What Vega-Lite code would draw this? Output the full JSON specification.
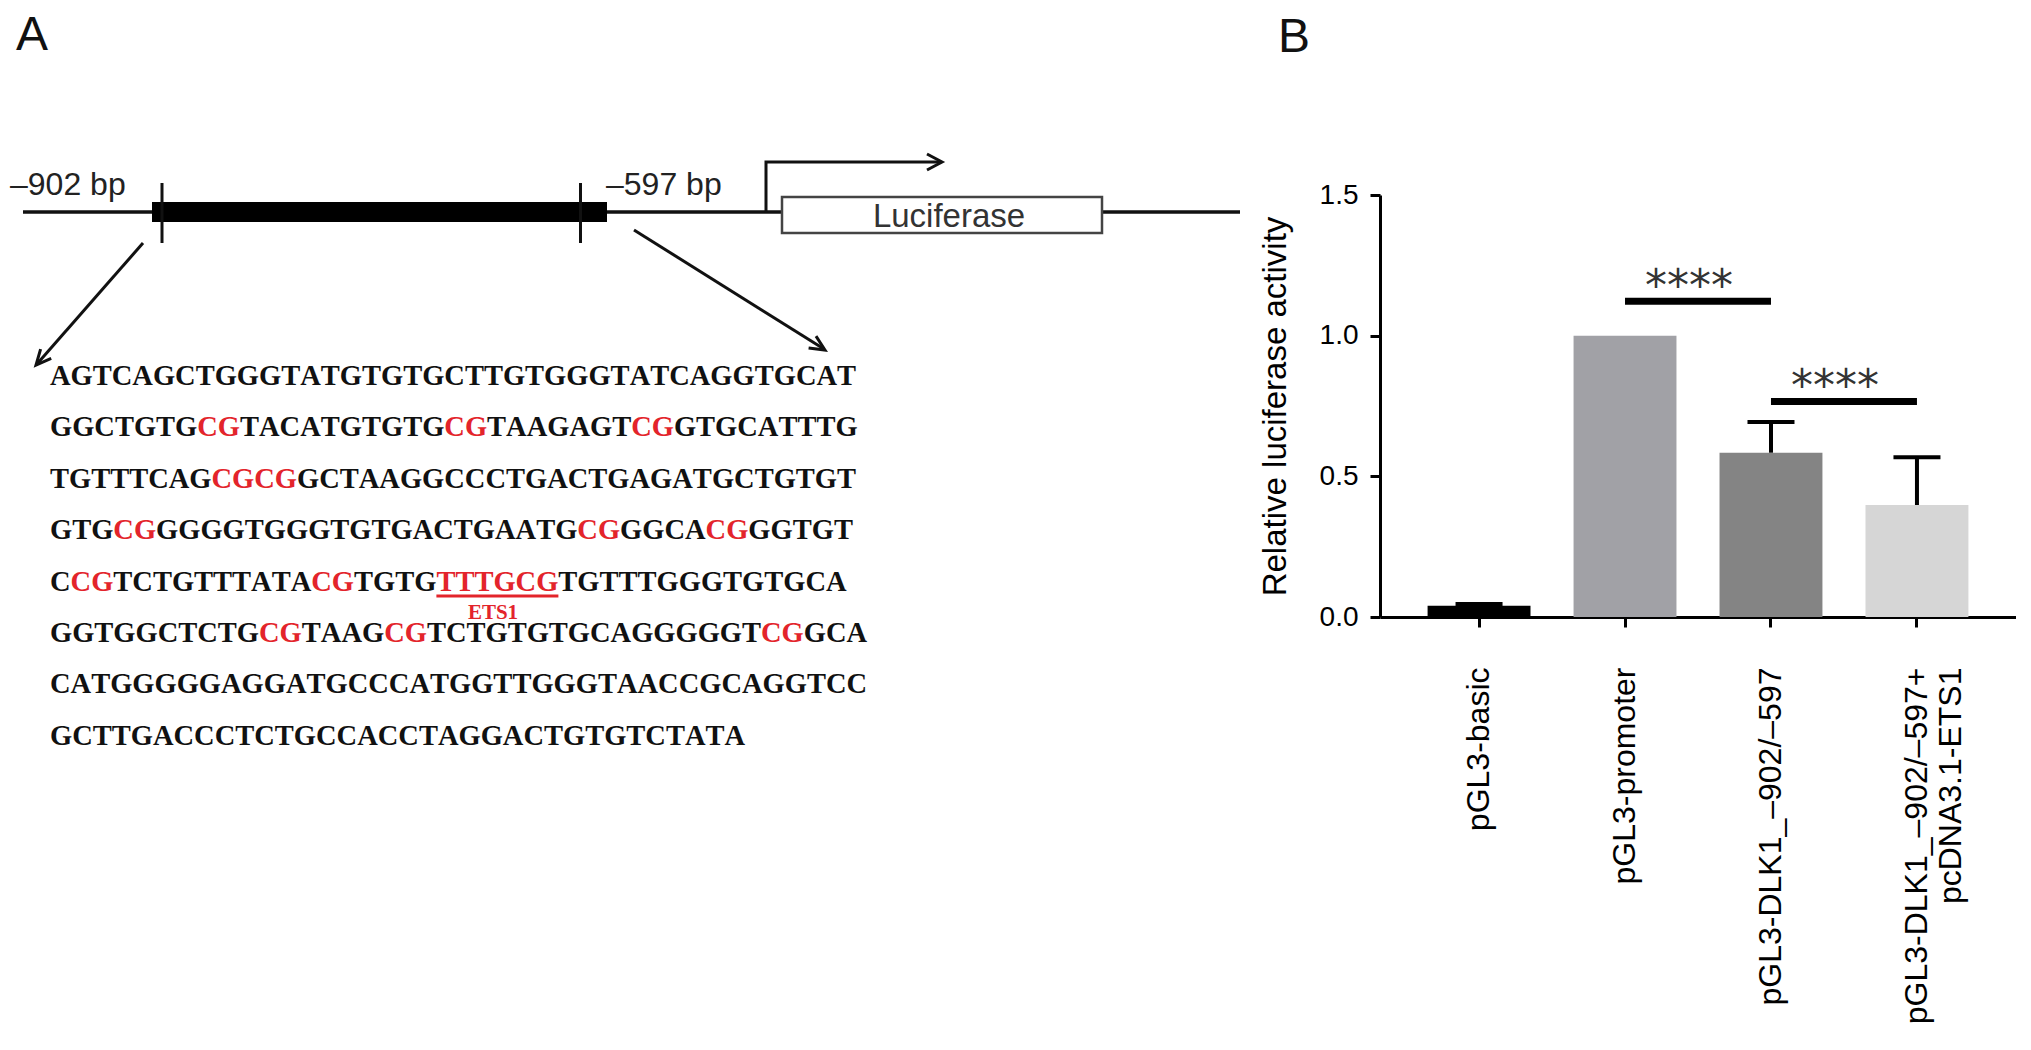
{
  "$schema": "https://vega.github.io/schema/vega-lite/v6.json",
  "padding": 0,
  "background": "white",
  "spacing": 80,
  "bounds": "flush",
  "center": true,
  "resolve": {"scale": {"color": "independent"}},
  "config": {
    "view": {"stroke": null},
    "axis": {"labelFont": "Liberation Sans", "titleFont": "Liberation Sans", "labelColor": "black", "titleColor": "black", "domainColor": "black", "tickColor": "black"},
    "text": {"font": "Liberation Sans"}
  },
  "datasets": {
    "paths": [
      {"p": "main", "o": 0, "x": 23, "y": 212, "hl": "no"},
      {"p": "main", "o": 1, "x": 1240, "y": 212, "hl": "no"},
      {"p": "tick1", "o": 0, "x": 162, "y": 183, "hl": "no"},
      {"p": "tick1", "o": 1, "x": 162, "y": 243, "hl": "no"},
      {"p": "tick2", "o": 0, "x": 580.5, "y": 183, "hl": "no"},
      {"p": "tick2", "o": 1, "x": 580.5, "y": 243, "hl": "no"},
      {"p": "prom", "o": 0, "x": 766, "y": 213, "hl": "no"},
      {"p": "prom", "o": 1, "x": 766, "y": 162, "hl": "no"},
      {"p": "prom", "o": 2, "x": 940, "y": 162, "hl": "no"},
      {"p": "promHead", "o": 0, "x": 927, "y": 154, "hl": "no"},
      {"p": "promHead", "o": 1, "x": 942, "y": 162, "hl": "no"},
      {"p": "promHead", "o": 2, "x": 927, "y": 170, "hl": "no"},
      {"p": "arrL", "o": 0, "x": 143, "y": 243, "hl": "no"},
      {"p": "arrL", "o": 1, "x": 37, "y": 364, "hl": "no"},
      {"p": "arrLHead", "o": 0, "x": 51.2, "y": 358.3, "hl": "no"},
      {"p": "arrLHead", "o": 1, "x": 36, "y": 365, "hl": "no"},
      {"p": "arrLHead", "o": 2, "x": 40.6, "y": 349.1, "hl": "no"},
      {"p": "arrR", "o": 0, "x": 634, "y": 230, "hl": "no"},
      {"p": "arrR", "o": 1, "x": 824, "y": 349, "hl": "no"},
      {"p": "arrRHead", "o": 0, "x": 808.6, "y": 348, "hl": "no"},
      {"p": "arrRHead", "o": 1, "x": 825, "y": 350, "hl": "no"},
      {"p": "arrRHead", "o": 2, "x": 816, "y": 336.1, "hl": "no"},
      {"p": "ul", "o": 0, "x": 436.4, "y": 596, "hl": "yes"},
      {"p": "ul", "o": 1, "x": 558.4, "y": 596, "hl": "yes"}
    ],
    "rects": [
      {"r": "bar", "x": 152, "x2": 607, "y": 202, "y2": 222},
      {"r": "luc", "x": 782, "x2": 1102, "y": 197, "y2": 233}
    ],
    "letters": [
      {"t": "A", "x": 16, "y": 50},
      {"t": "B", "x": 1278, "y": 52}
    ],
    "bp": [
      {"t": "–902 bp", "x": 10, "y": 195},
      {"t": "–597 bp", "x": 606, "y": 195}
    ],
    "luc": [{"t": "Luciferase", "x": 949, "y": 227}],
    "ets": [{"t": "ETS1", "x": 493, "y": 619}],
    "seq": [
      {"line": 1, "y": 385, "seq": "AGTCAGCTGGGTATGTGTGCTTGTGGGTATCAGGTGCAT", "mask": ""},
      {"line": 2, "y": 436, "seq": "GGCTGTGCGTACATGTGTGCGTAAGAGTCGGTGCATTTG", "mask": "000000011000000000011000000011000000000"},
      {"line": 3, "y": 488, "seq": "TGTTTCAGCGCGGCTAAGGCCCTGACTGAGATGCTGTGT", "mask": "000000001111000000000000000000000000000"},
      {"line": 4, "y": 539, "seq": "GTGCGGGGGTGGGTGTGACTGAATGCGGGCACGGGTGT", "mask": "00011000000000000000000001100001100000"},
      {"line": 5, "y": 591, "seq": "CCGTCTGTTTATACGTGTGTTTGCGTGTTTGGGTGTGCA", "mask": "011000000000011000011111100000000000000"},
      {"line": 6, "y": 642, "seq": "GGTGGCTCTGCGTAAGCGTCTGTGTGCAGGGGGTCGGCA", "mask": "000000000011000011000000000000000011000"},
      {"line": 7, "y": 693, "seq": "CATGGGGGAGGATGCCCATGGTTGGGTAACCGCAGGTCC", "mask": ""},
      {"line": 8, "y": 745, "seq": "GCTTGACCCTCTGCCACCTAGGACTGTGTCTATA", "mask": ""}
    ],
    "bars": [
      {"group": "pGL3-basic", "value": 0.04, "upper": 0.046},
      {"group": "pGL3-promoter", "value": 1.0},
      {"group": "pGL3-DLK1_–902/–597", "value": 0.584, "upper": 0.693},
      {"group": "pGL3-DLK1_–902/–597+ pcDNA3.1-ETS1", "value": 0.398, "upper": 0.568}
    ],
    "sig": [
      {"group": "pGL3-promoter", "group2": "pGL3-DLK1_–902/–597", "y": 1.122, "stars": "****"},
      {"group": "pGL3-DLK1_–902/–597", "group2": "pGL3-DLK1_–902/–597+ pcDNA3.1-ETS1", "y": 0.766, "stars": "****"}
    ]
  },
  "hconcat": [
    {
      "width": 1300,
      "height": 812,
      "layer": [
        {
          "data": {"name": "paths"},
          "transform": [{"filter": "datum.p == 'main'"}],
          "mark": {"type": "line", "strokeWidth": 3.5, "color": "#111", "strokeCap": "butt"},
          "encoding": {
            "x": {"field": "x", "type": "quantitative", "scale": {"domain": [0, 1300], "nice": false, "zero": false}, "axis": null},
            "y": {"field": "y", "type": "quantitative", "scale": {"domain": [0, 812], "nice": false, "zero": false, "reverse": true}, "axis": null},
            "detail": {"field": "p"},
            "order": {"field": "o"}
          }
        },
        {
          "data": {"name": "rects"},
          "transform": [{"filter": "datum.r == 'bar'"}],
          "mark": {"type": "rect", "fill": "#000"},
          "encoding": {
            "x": {"field": "x", "type": "quantitative", "scale": {"domain": [0, 1300], "nice": false, "zero": false}, "axis": null},
            "x2": {"field": "x2"},
            "y": {"field": "y", "type": "quantitative", "scale": {"domain": [0, 812], "nice": false, "zero": false, "reverse": true}, "axis": null},
            "y2": {"field": "y2"}
          }
        },
        {
          "data": {"name": "rects"},
          "transform": [{"filter": "datum.r == 'luc'"}],
          "mark": {"type": "rect", "fill": "white", "stroke": "#444", "strokeWidth": 2.5},
          "encoding": {
            "x": {"field": "x", "type": "quantitative", "scale": {"domain": [0, 1300], "nice": false, "zero": false}, "axis": null},
            "x2": {"field": "x2"},
            "y": {"field": "y", "type": "quantitative", "scale": {"domain": [0, 812], "nice": false, "zero": false, "reverse": true}, "axis": null},
            "y2": {"field": "y2"}
          }
        },
        {
          "data": {"name": "paths"},
          "transform": [{"filter": "datum.p != 'main'"}],
          "mark": {"type": "line", "strokeWidth": 3, "strokeCap": "butt", "strokeJoin": "miter"},
          "encoding": {
            "x": {"field": "x", "type": "quantitative", "scale": {"domain": [0, 1300], "nice": false, "zero": false}, "axis": null},
            "y": {"field": "y", "type": "quantitative", "scale": {"domain": [0, 812], "nice": false, "zero": false, "reverse": true}, "axis": null},
            "detail": {"field": "p"},
            "order": {"field": "o"},
            "color": {"field": "hl", "type": "nominal", "scale": {"domain": ["no", "yes"], "range": ["#111111", "#e3242b"]}, "legend": null}
          }
        },
        {
          "data": {"name": "letters"},
          "mark": {"type": "text", "align": "left", "baseline": "alphabetic", "fontSize": 48, "color": "#111"},
          "encoding": {
            "x": {"field": "x", "type": "quantitative", "scale": {"domain": [0, 1300], "nice": false, "zero": false}, "axis": null},
            "y": {"field": "y", "type": "quantitative", "scale": {"domain": [0, 812], "nice": false, "zero": false, "reverse": true}, "axis": null},
            "text": {"field": "t"}
          }
        },
        {
          "data": {"name": "bp"},
          "mark": {"type": "text", "align": "left", "baseline": "alphabetic", "fontSize": 32, "color": "#222"},
          "encoding": {
            "x": {"field": "x", "type": "quantitative", "scale": {"domain": [0, 1300], "nice": false, "zero": false}, "axis": null},
            "y": {"field": "y", "type": "quantitative", "scale": {"domain": [0, 812], "nice": false, "zero": false, "reverse": true}, "axis": null},
            "text": {"field": "t"}
          }
        },
        {
          "data": {"name": "luc"},
          "mark": {"type": "text", "align": "center", "baseline": "alphabetic", "fontSize": 33, "color": "#333"},
          "encoding": {
            "x": {"field": "x", "type": "quantitative", "scale": {"domain": [0, 1300], "nice": false, "zero": false}, "axis": null},
            "y": {"field": "y", "type": "quantitative", "scale": {"domain": [0, 812], "nice": false, "zero": false, "reverse": true}, "axis": null},
            "text": {"field": "t"}
          }
        },
        {
          "data": {"name": "seq"},
          "transform": [
            {"calculate": "split(datum.seq, '')", "as": "chars"},
            {"calculate": "split(datum.mask, '')", "as": "marks"},
            {"flatten": ["chars", "marks"], "as": ["ch", "mk"]},
            {"filter": "datum.ch != null && datum.ch != ''"},
            {"calculate": "datum.ch == 'G' ? 0.778 : (datum.ch == 'T' ? 0.667 : 0.722)", "as": "w"},
            {"window": [{"op": "sum", "field": "w", "as": "cum"}], "groupby": ["line"], "frame": [null, 0]},
            {"calculate": "50 + (datum.cum - datum.w) * 28.5", "as": "px"},
            {"calculate": "datum.mk == '1' ? 'yes' : 'no'", "as": "hl"}
          ],
          "mark": {"type": "text", "align": "left", "baseline": "alphabetic", "font": "Liberation Serif", "fontWeight": "bold", "fontSize": 28.5},
          "encoding": {
            "x": {"field": "px", "type": "quantitative", "scale": {"domain": [0, 1300], "nice": false, "zero": false}, "axis": null},
            "y": {"field": "y", "type": "quantitative", "scale": {"domain": [0, 812], "nice": false, "zero": false, "reverse": true}, "axis": null},
            "text": {"field": "ch"},
            "color": {"field": "hl", "type": "nominal", "scale": {"domain": ["no", "yes"], "range": ["#111111", "#e3242b"]}, "legend": null}
          }
        },
        {
          "data": {"name": "ets"},
          "mark": {"type": "text", "align": "center", "baseline": "alphabetic", "font": "Liberation Serif", "fontWeight": "bold", "fontSize": 21, "color": "#e3242b"},
          "encoding": {
            "x": {"field": "x", "type": "quantitative", "scale": {"domain": [0, 1300], "nice": false, "zero": false}, "axis": null},
            "y": {"field": "y", "type": "quantitative", "scale": {"domain": [0, 812], "nice": false, "zero": false, "reverse": true}, "axis": null},
            "text": {"field": "t"}
          }
        }
      ]
    },
    {
      "width": 636,
      "height": 422,
      "layer": [
        {
          "data": {"name": "bars"},
          "mark": {"type": "bar"},
          "encoding": {
            "x": {
              "field": "group", "type": "nominal", "sort": null,
              "scale": {"domain": ["pGL3-basic", "pGL3-promoter", "pGL3-DLK1_–902/–597", "pGL3-DLK1_–902/–597+ pcDNA3.1-ETS1"], "paddingInner": 0.295, "paddingOuter": 0.326},
              "axis": {
                "title": null, "labelAngle": -90, "labelFontSize": 32, "labelPadding": 40, "labelLineHeight": 34,
                "labelExpr": "split(datum.label, ' ')", "labelLimit": 0, "labelOverlap": false,
                "tickSize": 10, "tickWidth": 3, "domainWidth": 3
              }
            },
            "y": {
              "field": "value", "type": "quantitative",
              "scale": {"domain": [0, 1.5], "nice": false, "zero": true},
              "axis": {
                "title": "Relative luciferase activity", "titleFontSize": 33, "titleFontWeight": "normal", "titlePadding": 27,
                "values": [0, 0.5, 1, 1.5], "format": ".1f", "labelFontSize": 28, "labelPadding": 12,
                "tickSize": 10, "tickWidth": 3, "domainWidth": 3, "grid": false
              }
            },
            "color": {
              "field": "group", "type": "nominal",
              "scale": {"domain": ["pGL3-basic", "pGL3-promoter", "pGL3-DLK1_–902/–597", "pGL3-DLK1_–902/–597+ pcDNA3.1-ETS1"], "range": ["#000000", "#a1a1a6", "#848484", "#d6d6d6"]},
              "legend": null
            }
          }
        },
        {
          "data": {"name": "bars"},
          "transform": [{"filter": "datum.upper != null"}],
          "mark": {"type": "rule", "strokeWidth": 4, "color": "black"},
          "encoding": {
            "x": {"field": "group", "type": "nominal", "sort": null, "scale": {"domain": ["pGL3-basic", "pGL3-promoter", "pGL3-DLK1_–902/–597", "pGL3-DLK1_–902/–597+ pcDNA3.1-ETS1"], "paddingInner": 0.295, "paddingOuter": 0.326}},
            "y": {"field": "value", "type": "quantitative"},
            "y2": {"field": "upper"}
          }
        },
        {
          "data": {"name": "bars"},
          "transform": [{"filter": "datum.upper != null"}],
          "mark": {"type": "tick", "thickness": 4, "size": 47, "color": "black", "opacity": 1},
          "encoding": {
            "x": {"field": "group", "type": "nominal", "sort": null, "scale": {"domain": ["pGL3-basic", "pGL3-promoter", "pGL3-DLK1_–902/–597", "pGL3-DLK1_–902/–597+ pcDNA3.1-ETS1"], "paddingInner": 0.295, "paddingOuter": 0.326}},
            "y": {"field": "upper", "type": "quantitative"}
          }
        },
        {
          "data": {"name": "sig"},
          "mark": {"type": "rule", "strokeWidth": 7, "color": "black", "strokeCap": "butt"},
          "encoding": {
            "x": {"field": "group", "type": "nominal", "sort": null, "bandPosition": 0.5, "scale": {"domain": ["pGL3-basic", "pGL3-promoter", "pGL3-DLK1_–902/–597", "pGL3-DLK1_–902/–597+ pcDNA3.1-ETS1"], "paddingInner": 0.295, "paddingOuter": 0.326}},
            "x2": {"field": "group2", "bandPosition": 0.5},
            "y": {"field": "y", "type": "quantitative"}
          }
        },
        {
          "data": {"name": "sig"},
          "mark": {"type": "text", "font": "DejaVu Sans", "fontSize": 44, "color": "#333", "baseline": "alphabetic", "align": "center", "dx": 64},
          "encoding": {
            "x": {"field": "group", "type": "nominal", "sort": null, "scale": {"domain": ["pGL3-basic", "pGL3-promoter", "pGL3-DLK1_–902/–597", "pGL3-DLK1_–902/–597+ pcDNA3.1-ETS1"], "paddingInner": 0.295, "paddingOuter": 0.326}},
            "y": {"field": "y", "type": "quantitative"},
            "text": {"field": "stars"}
          }
        }
      ]
    }
  ]
}
